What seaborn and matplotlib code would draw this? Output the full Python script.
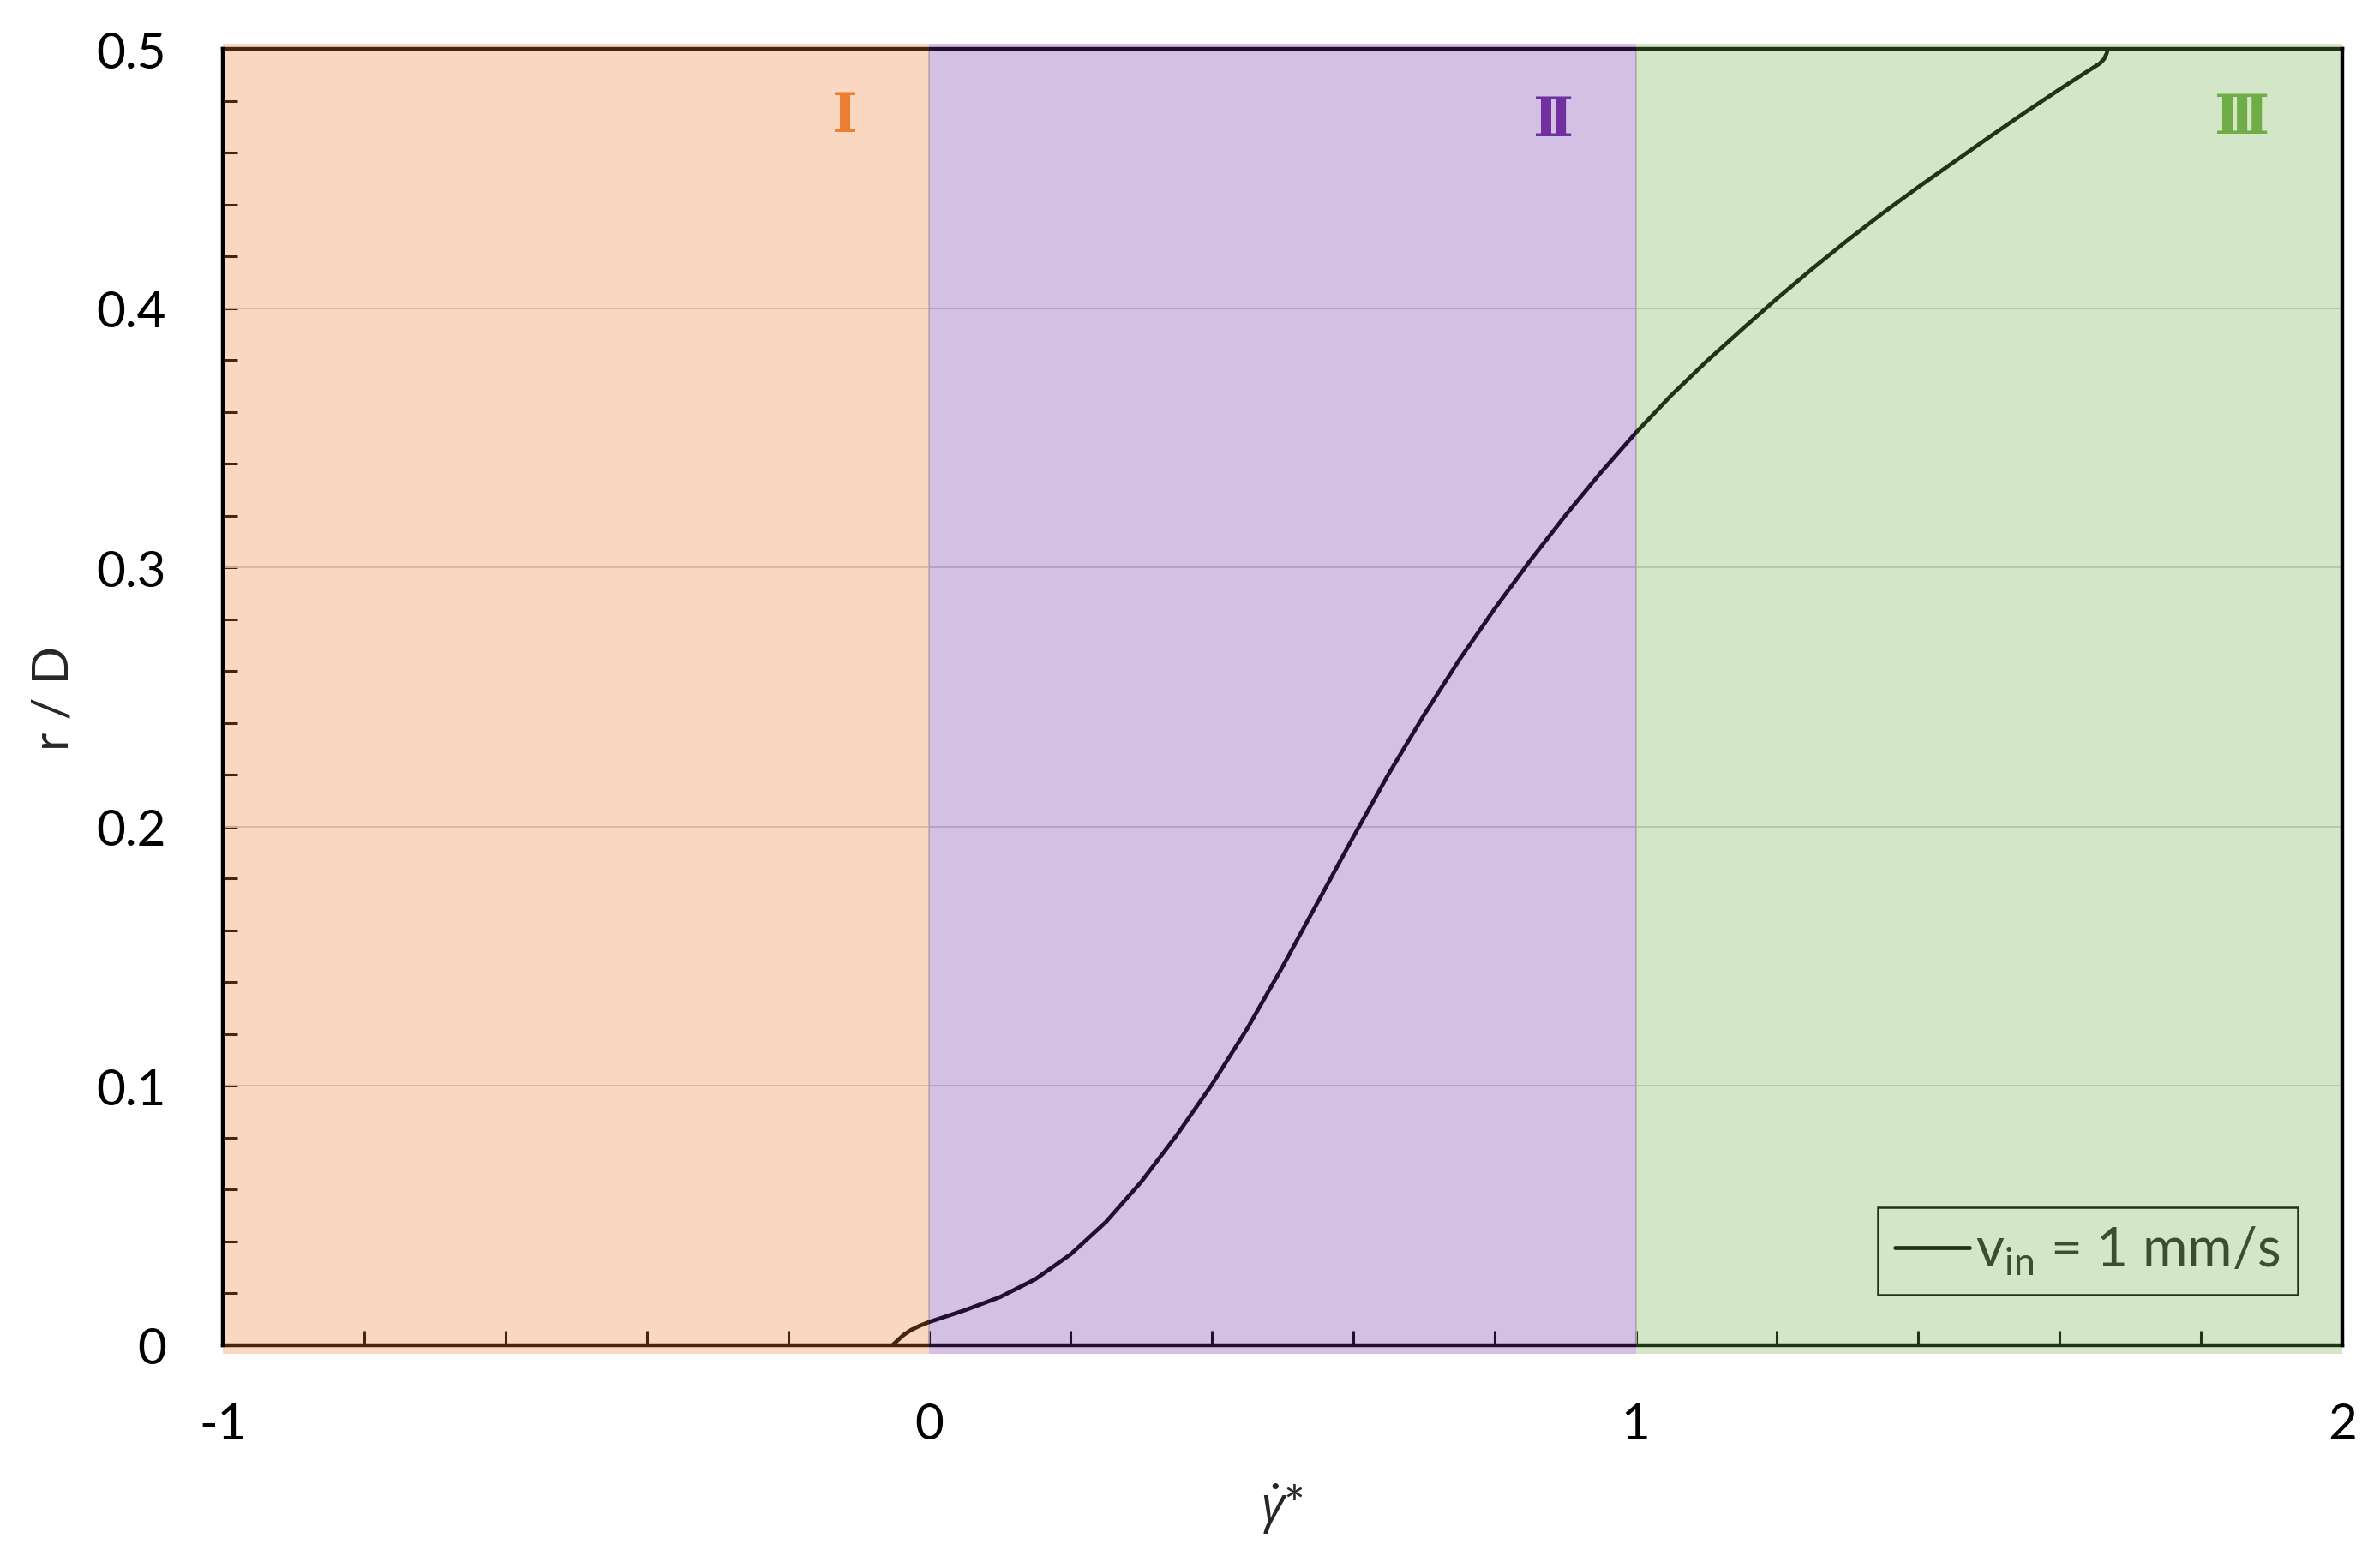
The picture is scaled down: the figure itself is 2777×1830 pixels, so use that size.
import numpy as np
import pandas as pd
import matplotlib
matplotlib.use("Agg")
import matplotlib.pyplot as plt
import seaborn as sns

# ---- data ----
gamma_dot = [-0.052, -0.045, -0.036, -0.026, -0.013, 0.000, 0.050, 0.100, 0.150, 0.200,
             0.250, 0.300, 0.350, 0.400, 0.450, 0.500, 0.550, 0.600, 0.650, 0.700,
             0.750, 0.800, 0.850, 0.900, 0.950, 1.000, 1.050, 1.100, 1.150, 1.200,
             1.250, 1.300, 1.350, 1.400, 1.450, 1.500, 1.550, 1.600, 1.630, 1.657,
             1.663, 1.667, 1.668]
r_over_D = [0.0000, 0.0018, 0.0040, 0.0058, 0.0075, 0.0089, 0.0134, 0.0185, 0.0254, 0.0350,
            0.0475, 0.0630, 0.0809, 0.1005, 0.1221, 0.1460, 0.1710, 0.1960, 0.2203, 0.2430,
            0.2643, 0.2840, 0.3025, 0.3200, 0.3365, 0.3520, 0.3664, 0.3795, 0.3918, 0.4038,
            0.4153, 0.4263, 0.4368, 0.4468, 0.4564, 0.4660, 0.4754, 0.4845, 0.4898, 0.4945,
            0.4962, 0.4985, 0.5000]
series_label = r"v$_{\mathregular{in}}$ = 1 mm/s"

region_names = ["Ⅰ", "Ⅱ", "Ⅲ"]
region_bounds = [(-1, 0), (0, 1), (1, 2)]
region_colors = ["#ED7D31", "#7030A0", "#70AD47"]

x_major = [-1, 0, 1, 2]
x_major_labels = ["-1", "0", "1", "2"]
y_major = [0, 0.1, 0.2, 0.3, 0.4, 0.5]
y_major_labels = ["0", "0.1", "0.2", "0.3", "0.4", "0.5"]

df = pd.DataFrame({"gamma": gamma_dot, "r": r_over_D, "series": series_label})

# ---- style ----
sns.set_style("ticks")
plt.rcParams["font.family"] = ["Lato", "DejaVu Sans"]
plt.rcParams["mathtext.fontset"] = "custom"
plt.rcParams["mathtext.rm"] = "Lato"
plt.rcParams["mathtext.it"] = "Open Sans:italic"
plt.rcParams["axes.unicode_minus"] = False

fig = plt.figure(figsize=(27.77, 18.31), dpi=100)
ax = fig.add_axes([0.09375, 0.14217, 0.89031, 0.82592])

# gridlines
for y in y_major[1:-1]:
    ax.axhline(y, color="#D0D0D0", lw=1.3, zorder=1)
for x in x_major[1:-1]:
    ax.axvline(x, color="#C8C8C8", lw=1.3, zorder=1)

sns.lineplot(data=df, x="gamma", y="r", hue="series", palette=["black"],
             sort=False, estimator=None, lw=3.4, ax=ax, zorder=2)
for ln in ax.get_lines():
    ln.set_solid_joinstyle("round")
    ln.set_solid_capstyle("round")

ax.set_xlim(-1, 2)
ax.set_ylim(0, 0.5)

ax.set_xticks(x_major)
ax.set_xticklabels(x_major_labels)
ax.set_xticks(np.round(np.arange(-1, 2.001, 0.2), 3), minor=True)
ax.set_yticks(y_major)
ax.set_yticklabels(y_major_labels)
ax.set_yticks(np.round(np.arange(0, 0.5001, 0.02), 3), minor=True)

ax.tick_params(axis="both", which="both", direction="in", length=12, width=2.2,
               color="black", labelsize=42, labelcolor="black")
ax.tick_params(axis="x", which="both", pad=48, top=False)
ax.tick_params(axis="y", which="both", pad=48, right=False)

for s in ax.spines.values():
    s.set_linewidth(3.2)
    s.set_color("black")
ax.spines["left"].set_zorder(6)
ax.spines["right"].set_zorder(6)

ax.set_xlabel(r"$\dot{\gamma}$*", fontsize=42, labelpad=28)
ax.set_ylabel("r / D", fontsize=42, labelpad=16)

leg = ax.legend(loc="lower right", bbox_to_anchor=(0.979, 0.039), borderaxespad=0,
                fontsize=46, frameon=True, fancybox=False, handlelength=1.35,
                handletextpad=0.12, borderpad=0.32, title=None)
leg.get_frame().set_edgecolor("black")
leg.get_frame().set_linewidth(1.8)
leg.get_frame().set_facecolor("white")
leg.get_frame().set_alpha(1)
leg.set_zorder(2.7)

# translucent region overlays drawn above line, grid, legend and axis lines
for (x0, x1), c in zip(region_bounds, region_colors):
    ax.axvspan(x0, x1, ymin=-0.007, ymax=1.004, color=c, alpha=0.3, lw=0,
               zorder=4, clip_on=False)

# region labels
label_pos = [(-0.119, 0.4742), (0.883, 0.4725), (1.858, 0.4736)]
for name, (x, y), c in zip(region_names, label_pos, region_colors):
    ax.text(x, y, name, color=c, fontsize=46, fontweight="bold", ha="center", va="center",
            family=["DejaVu Serif", "DejaVu Sans"], zorder=7)

fig.savefig("out.png", dpi=100, facecolor="white")
